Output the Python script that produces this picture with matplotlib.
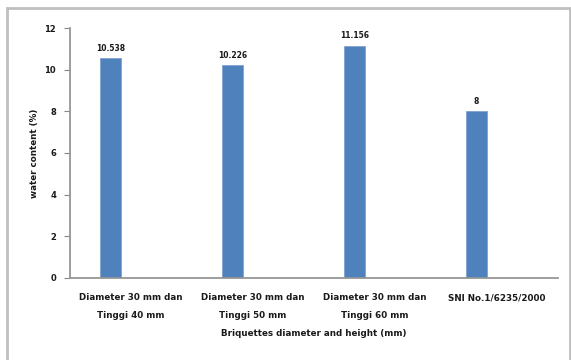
import numpy as np
import matplotlib
matplotlib.use("Agg")
import matplotlib.pyplot as plt
from matplotlib.patches import Rectangle

categories = ["Diameter 30 mm dan\nTinggi 40 mm",
              "Diameter 30 mm dan\nTinggi 50 mm",
              "Diameter 30 mm dan\nTinggi 60 mm",
              "SNI No.1/6235/2000"]
water_content = [10.538, 10.226, 11.156, 8]
value_labels = ["10.538", "10.226", "11.156", "8"]
yticks = [0, 2, 4, 6, 8, 10, 12]

plt.rcParams['font.family'] = ['DejaVu Sans']
txt = '#1a1a1a'

fig = plt.figure(figsize=(5.71, 3.6), dpi=100)
ax = fig.add_axes([0.1226, 0.2278, 0.8546, 0.6944])

x = np.arange(len(categories))
bw = 0.17
# first series of a two-series cluster, so the bar sits left of the category centre
bars = ax.bar(x - bw / 2 - 0.085, water_content, width=bw, color='#4F81BD',
              edgecolor='#7FA3D0', linewidth=0.6)
for b, lab in zip(bars, value_labels):
    ax.text(b.get_x() + b.get_width() / 2, b.get_height() + 0.25, lab,
            ha='center', va='bottom', fontsize=5.5, color=txt, fontweight='bold')

ax.set_xlim(-0.5, 3.5)
ax.set_ylim(0, 12)
ax.set_yticks(yticks)
ax.set_xticks(x)
ax.set_xticklabels(categories, fontsize=6.3, linespacing=2.3, color=txt,
                   fontweight='bold')
ax.tick_params(axis='x', length=0, pad=11)
ax.tick_params(axis='y', length=4, width=0.8, color='#868686', labelsize=6,
               labelcolor=txt, pad=6)
for t in ax.get_yticklabels():
    t.set_fontweight('bold')
ax.set_ylabel("water content (%)", fontsize=6.3, color=txt, labelpad=4,
              fontweight='bold')
ax.set_xlabel("Briquettes diameter and height (mm)", fontsize=6.3,
              color=txt, fontweight='bold', labelpad=6)

for s in ['top', 'right']:
    ax.spines[s].set_visible(False)
for s in ['left', 'bottom']:
    ax.spines[s].set_color('#969696')
    ax.spines[s].set_linewidth(1.3)

# outer chart border
fig.patches.append(Rectangle((7 / 571, -0.1), 563 / 571, 1.1 - 8 / 360,
                             transform=fig.transFigure, fill=False,
                             edgecolor='#BFBFBF', linewidth=2))

fig.savefig("out.png", dpi=100)
